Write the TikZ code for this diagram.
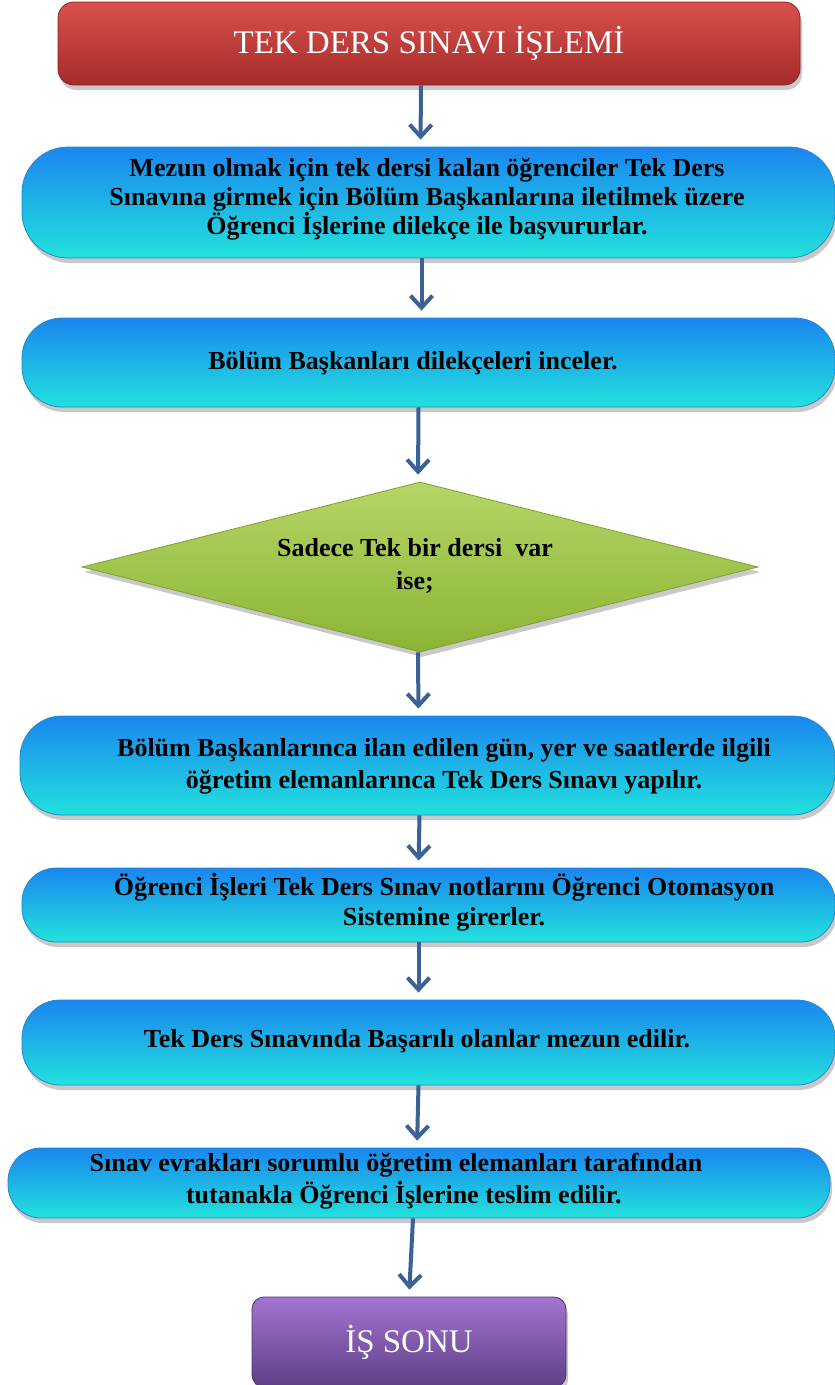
\documentclass[tikz,border=0pt]{standalone}
\usepackage{fontspec}
\setmainfont{Liberation Serif}
\usetikzlibrary{shapes.geometric,arrows.meta,shadows,calc}
\definecolor{redtop}{HTML}{D9504C}
\definecolor{redbot}{HTML}{A42C2A}
\definecolor{redline}{HTML}{8C2422}
\definecolor{cyantop}{HTML}{1A86F0}
\definecolor{cyanmid}{HTML}{22B4F0}
\definecolor{cyanbot}{HTML}{22E2DC}
\definecolor{cyanline}{HTML}{2A86C8}
\definecolor{greentop}{HTML}{B4D666}
\definecolor{greenbot}{HTML}{8CB434}
\definecolor{greenline}{HTML}{7E9E36}
\definecolor{purptop}{HTML}{A274D0}
\definecolor{purpbot}{HTML}{5E4086}
\definecolor{purpline}{HTML}{4E3470}
\definecolor{arrowcol}{HTML}{3B6196}
\begin{document}
\begin{tikzpicture}[x=1pt,y=-1pt,
  shade/.style={drop shadow={shadow xshift=2pt,shadow yshift=-5pt,opacity=0.3,fill=black!70}},
  titlebox/.style={shade,rectangle,rounded corners=16pt,draw=redline,line width=0.8pt,
    top color=redtop,bottom color=redbot,text=white,inner sep=0pt,
    font=\fontsize{33}{38}\selectfont},
  stepbox/.style={shade,rectangle,draw=cyanline,line width=0.8pt,
    top color=cyantop,middle color=cyanmid,bottom color=cyanbot,inner sep=0pt},
  steptext/.style={align=center,font=\fontsize{26}{29}\selectfont\bfseries},
  decbox/.style={shade,diamond,draw=greenline,line width=0.8pt,
    top color=greentop,bottom color=greenbot,inner sep=0pt,
    minimum width=676pt,minimum height=170pt},
  endbox/.style={shade,rectangle,rounded corners=12pt,draw=purpline,line width=0.8pt,
    top color=purptop,bottom color=purpbot,text=white,inner sep=0pt,
    font=\fontsize{33}{38}\selectfont},
  arr/.style={draw=arrowcol,line width=4pt,
    -{Straight Barb[length=12pt,width=22pt,line width=4pt]},shorten >=7pt}
]
\useasboundingbox (0,0) rectangle (835,1385);

\node[titlebox,minimum width=742pt,minimum height=83pt] (title) at (429,43.5) {TEK DERS SINAVI İŞLEMİ};

\node[stepbox,rounded corners=46pt,minimum width=813pt,minimum height=111pt] (b1) at (428.5,202.5) {};
\node[steptext] (t1) at (427,199)
  {Mezun olmak için tek dersi kalan öğrenciler Tek Ders\\
   Sınavına girmek için Bölüm Başkanlarına iletilmek üzere\\
   Öğrenci İşlerine dilekçe ile başvururlar.};

\node[stepbox,rounded corners=40pt,minimum width=813pt,minimum height=89pt] (b2) at (428.5,362.5) {};
\node[steptext] (t2) at (413,363) {Bölüm Başkanları dilekçeleri inceler.};

\node[decbox] (d) at (420,567) {};
\node[steptext,font=\fontsize{26}{33}\selectfont\bfseries] (td) at (415,566) {Sadece Tek bir dersi\ \ var\\ise;};

\node[stepbox,rounded corners=42pt,minimum width=815pt,minimum height=99pt] (b3) at (427.5,765.5) {};
\node[steptext,font=\fontsize{26}{32}\selectfont\bfseries] (t3) at (444,766)
  {Bölüm Başkanlarınca ilan edilen gün, yer ve saatlerde ilgili\\
   öğretim elemanlarınca Tek Ders Sınavı yapılır.};

\node[stepbox,rounded corners=34pt,minimum width=813pt,minimum height=74pt] (b4) at (428.5,905) {};
\node[steptext,font=\fontsize{26}{30}\selectfont\bfseries] (t4) at (444,902)
  {Öğrenci İşleri Tek Ders Sınav notlarını Öğrenci Otomasyon\\
   Sistemine girerler.};

\node[stepbox,rounded corners=38pt,minimum width=813pt,minimum height=85pt] (b5) at (428.5,1042.5) {};
\node[steptext] (t5) at (417,1041) {Tek Ders Sınavında Başarılı olanlar mezun edilir.};

\node[stepbox,rounded corners=33pt,minimum width=822pt,minimum height=70pt] (b6) at (419,1183) {};
\node[steptext,font=\fontsize{26}{32}\selectfont\bfseries] (t6) at (396,1181)
  {Sınav evrakları sorumlu öğretim elemanları tarafından\\
   \hspace*{0.6em}tutanakla Öğrenci İşlerine teslim edilir.};

\node[endbox,minimum width=314pt,minimum height=90pt] (end) at (409,1342) {İŞ SONU};

\draw[arr] ([xshift=-8pt]title.south) -- ([xshift=-8pt]b1.north);
\draw[arr] ([xshift=-7pt]b1.south) -- ([xshift=-7pt]b2.north);
\draw[arr] ([xshift=-10pt]b2.south) -- ([xshift=-2pt]d.north);
\draw[arr] ([xshift=-2pt]d.south) -- ([xshift=-9pt]b3.north);
\draw[arr] ([xshift=-8pt]b3.south) -- ([xshift=-10pt]b4.north);
\draw[arr] ([xshift=-10pt]b4.south) -- ([xshift=-10pt]b5.north);
\draw[arr] ([xshift=-10pt]b5.south) -- ([xshift=-2pt]b6.north);
\draw[arr] ([xshift=-6pt]b6.south) -- ([xshift=0pt]end.north);
\end{tikzpicture}
\end{document}
